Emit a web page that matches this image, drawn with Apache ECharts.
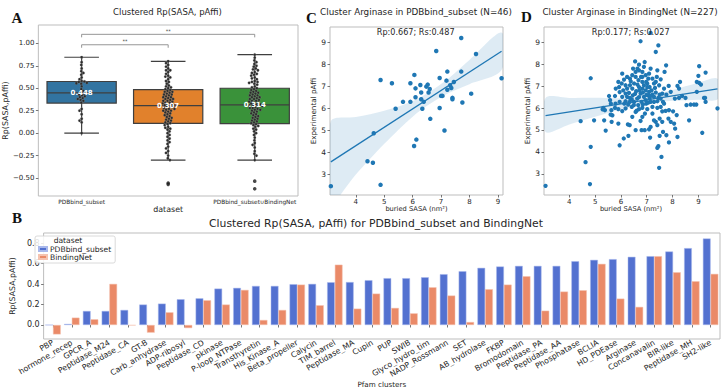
<!DOCTYPE html>
<html><head><meta charset="utf-8">
<script src="https://cdn.jsdelivr.net/npm/echarts@6/dist/echarts.min.js"></script>
<style>html,body{margin:0;padding:0;background:#fff}#c{width:722px;height:392px}</style>
</head><body><div id="c"></div>
<script>
// ---------- Panel A data ----------
var datasetNames = ['PDBbind_subset', 'BindingNet', 'PDBbind_subset\u222aBindingNet'];
// [min whisker, Q1, median, Q3, max whisker]
var boxPDBbind = [0.0, 0.335, 0.448, 0.575, 0.845];
var boxBindingNet = [-0.30, 0.108, 0.307, 0.485, 0.80];
var boxUnion = [-0.30, 0.105, 0.314, 0.50, 0.875];
var medianLabels = ['0.448', '0.307', '0.314'];
var outliersBindingNet = [-0.555, -0.57];
var outliersUnion = [-0.535, -0.62];
var swarmPDBbind = [0.845, 0.79, 0.76, 0.72, 0.69, 0.67, 0.65, 0.62, 0.60, 0.58, 0.575, 0.57, 0.56, 0.555, 0.55, 0.52, 0.49, 0.47, 0.45, 0.44, 0.43, 0.42, 0.41, 0.40, 0.39, 0.38, 0.37, 0.36, 0.34, 0.27, 0.25, 0.21, 0.16, 0.14, 0.12, 0.0];
var swarmBindingNet = [0.80, 0.78, 0.76, 0.74, 0.72, 0.70, 0.70, 0.68, 0.66, 0.64, 0.63, 0.62, 0.60, 0.58, 0.57, 0.55, 0.53, 0.52, 0.51, 0.50, 0.49, 0.48, 0.47, 0.46, 0.46, 0.45, 0.44, 0.43, 0.43, 0.42, 0.41, 0.40, 0.40, 0.39, 0.38, 0.38, 0.37, 0.36, 0.36, 0.35, 0.34, 0.34, 0.33, 0.32, 0.32, 0.31, 0.31, 0.30, 0.29, 0.29, 0.28, 0.27, 0.27, 0.26, 0.25, 0.25, 0.24, 0.23, 0.22, 0.21, 0.20, 0.19, 0.18, 0.17, 0.16, 0.15, 0.14, 0.13, 0.12, 0.11, 0.10, 0.09, 0.07, 0.06, 0.05, 0.04, 0.02, 0.00, -0.02, -0.04, -0.06, -0.08, -0.10, -0.12, -0.15, -0.17, -0.20, -0.22, -0.25, -0.28, -0.30];
var swarmUnion = [0.875, 0.84, 0.81, 0.79, 0.77, 0.75, 0.74, 0.72, 0.71, 0.70, 0.68, 0.67, 0.66, 0.65, 0.64, 0.62, 0.61, 0.60, 0.58, 0.57, 0.57, 0.56, 0.55, 0.54, 0.52, 0.51, 0.50, 0.49, 0.48, 0.47, 0.46, 0.45, 0.45, 0.44, 0.43, 0.42, 0.42, 0.41, 0.40, 0.40, 0.39, 0.38, 0.38, 0.37, 0.36, 0.36, 0.35, 0.34, 0.34, 0.33, 0.32, 0.32, 0.31, 0.31, 0.30, 0.30, 0.29, 0.28, 0.28, 0.27, 0.26, 0.26, 0.25, 0.24, 0.23, 0.22, 0.21, 0.20, 0.19, 0.18, 0.17, 0.16, 0.15, 0.14, 0.13, 0.12, 0.11, 0.10, 0.09, 0.08, 0.07, 0.05, 0.04, 0.02, 0.0, -0.02, -0.05, -0.08, -0.11, -0.13, -0.16, -0.20, -0.23, -0.25, -0.30];
// significance brackets: [from category, to category, height]
var brackets = [[0, 1, 0.984, '**'], [0, 2, 1.10, '**']];
var aTicks = [-0.5, -0.25, 0, 0.25, 0.5, 0.75, 1.0];

// ---------- Panel C data ----------
var scatterC = [[7.71,9.18],[8.23,8.46],[6.83,8.59],[4.87,7.28],[5.27,7.13],[6.06,7.51],[5.92,7.13],[7.22,7.66],[7.71,7.66],[6.95,7.37],[7.19,7.25],[6.27,7.05],[6.48,6.98],[6.53,7.07],[6.10,6.90],[6.60,6.87],[6.30,6.71],[6.56,6.71],[7.32,7.04],[7.45,7.19],[7.36,6.92],[7.22,6.84],[7.00,6.56],[7.05,6.56],[6.10,6.50],[6.30,6.41],[6.39,6.29],[5.92,6.29],[5.66,6.29],[5.40,5.98],[6.34,5.98],[6.95,6.01],[7.40,6.47],[7.40,6.41],[7.75,6.26],[8.06,6.66],[9.13,7.36],[6.62,5.52],[7.12,4.99],[6.13,4.58],[6.05,4.29],[4.63,4.87],[4.41,3.60],[4.60,3.53],[4.87,2.53],[3.12,2.47]];
var regLineC = [[3.12, 3.57], [9.13, 8.58]];
var ciXC = [3.12, 4.0, 5.0, 6.0, 6.6, 7.2, 8.0, 9.13];
var ciLoC = [1.73, 3.0, 4.39, 5.62, 6.19, 6.65, 7.09, 7.73];
var ciHiC = [5.41, 5.6, 5.89, 6.32, 6.75, 7.29, 8.19, 9.43];
var cdXTicks = [4, 5, 6, 7, 8, 9];
var cdYTicks = [3, 4, 5, 6, 7, 8, 9];

// ---------- Panel D data ----------
var scatterD = [[7.15,9.43],[6.76,9.05],[7.45,8.86],[7.35,8.56],[4.83,7.36],[3.08,2.45],[4.80,2.53],[4.63,3.53],[4.83,4.23],[7.48,3.27],[7.57,3.77],[7.41,4.18],[7.45,4.26],[7.86,4.43],[5.95,4.30],[6.11,4.61],[6.29,4.73],[4.44,5.40],[5.41,4.97],[7.50,4.73],[8.19,4.68],[8.10,5.06],[9.15,4.87],[9.74,5.98],[9.26,6.46],[9.28,7.62],[9.03,7.91],[9.00,7.47],[8.94,7.19],[9.03,7.15],[9.10,7.07],[8.94,6.74],[8.83,6.16],[8.64,5.44],[8.54,6.13],[8.25,6.46],[8.25,6.89],[8.29,7.19],[8.19,7.01],[8.16,5.68],[7.93,5.37],[7.75,7.95],[7.69,7.65],[7.85,7.01],[7.93,6.74],[7.76,6.61],[7.67,6.20],[7.86,5.90],[7.73,5.87],[7.60,5.85],[7.35,5.37],[7.28,5.44],[7.15,5.14],[7.09,5.03],[6.92,4.99],[6.80,4.99],[6.57,4.99],[6.76,5.41],[6.83,5.60],[6.93,5.75],[7.02,5.95],[7.22,6.05],[7.15,6.28],[7.41,6.31],[7.50,6.61],[7.48,7.04],[7.39,7.42],[7.41,7.72],[7.15,7.80],[6.92,8.10],[6.55,8.13],[6.05,7.57],[5.90,7.19],[5.93,6.96],[5.77,6.55],[5.58,6.36],[5.32,6.01],[5.38,5.90],[5.63,5.90],[5.67,5.67],[5.77,6.01],[5.35,5.44],[5.60,5.70],[5.90,5.95],[6.18,5.98],[6.27,5.25],[6.34,5.22],[6.44,5.60],[6.61,5.88],[6.42,6.05],[6.34,6.28],[6.13,6.20],[6.05,6.51],[6.18,6.66],[6.09,6.81],[6.24,6.89],[6.35,7.04],[6.51,7.12],[6.35,7.34],[6.44,7.50],[6.57,7.65],[6.70,7.72],[6.83,7.65],[6.96,7.50],[7.06,7.34],[7.22,7.34],[6.98,7.19],[6.83,7.19],[6.68,7.27],[6.70,6.96],[6.83,6.89],[6.96,6.81],[7.09,6.74],[7.22,6.61],[7.35,6.71],[7.06,6.58],[6.89,6.51],[6.76,6.66],[6.59,6.77],[6.46,6.58],[6.63,6.43],[6.80,6.28],[6.96,6.36],[6.42,6.40],[6.24,6.51],[6.31,6.69],[5.95,6.73],[6.51,6.28],[6.67,6.13],[6.83,6.01],[6.98,6.20],[7.11,6.43],[7.28,6.51],[7.45,6.46],[7.60,6.66],[7.67,6.89],[7.11,6.96],[7.28,7.12],[7.02,7.12],[6.89,7.04],[6.78,7.42],[6.57,7.42],[7.09,7.57],[6.44,6.89],[6.18,7.04],[6.03,7.12],[5.80,6.89],[6.12,7.30],[5.54,6.55],[5.64,5.37],[5.90,5.29],[6.05,5.86],[6.57,5.82],[6.70,5.95],[7.22,5.75],[7.41,6.01],[7.54,6.05],[7.50,5.52],[7.60,5.37],[7.41,5.22],[8.09,6.43],[8.37,6.55],[8.50,6.46],[8.70,6.16],[8.92,6.16],[9.22,6.46],[9.28,6.28],[8.02,5.85],[7.84,5.52],[8.06,5.29],[7.63,4.91],[7.76,4.76],[7.13,4.65],[4.96,5.44],[5.29,5.94],[5.61,6.20],[6.38,7.22],[6.64,7.07],[6.72,6.81],[6.85,6.71],[7.02,6.96],[7.19,6.81],[7.32,6.92],[7.15,6.55],[6.99,6.60],[6.70,6.50],[6.55,6.65],[6.34,6.46],[6.18,6.31],[6.28,6.16],[6.50,6.13],[6.85,6.16],[7.06,6.25],[7.28,6.28],[7.54,6.43],[7.63,6.28],[7.35,7.19],[7.54,7.31],[6.47,7.80],[6.70,7.98],[6.89,7.88],[6.24,7.42],[5.95,6.28],[5.79,6.20],[6.83,7.42],[6.64,7.80]];
var regLineD = [[3.08, 5.65], [9.74, 6.88]];
var ciXD = [3.08, 4.0, 5.0, 6.0, 7.0, 8.0, 9.0, 9.74];
var ciLoD = [4.91, 5.25, 5.60, 5.95, 6.20, 6.33, 6.38, 6.40];
var ciHiD = [6.46, 6.46, 6.47, 6.45, 6.55, 6.82, 7.15, 7.34];

// ---------- Panel B data ----------
var pfamClusters = ['PBP','hormone_recep','GPCR_A','Peptidase_M24','Peptidase_CA','GT-B','Carb_anhydrase','ADP-ribosyl','Peptidase_CD','pkinase','P-loop_NTPase','Transthyretin','His_Kinase_A','Beta_propeller','Calycin','TIM_barrel','Peptidase_MA','Cupin','PUP','SWIB','Glyco_hydro_tim','NADP_Rossmann','SET','AB_hydrolase','FKBP','Bromodomain','Peptidase_PA','Peptidase_AA','Phosphatase','BCLIA','HD_PDEase','Arginase','Concanavalin','BIR-like','Peptidase_MH','SH2-like'];
var rpPDBbind = [0.0, 0.01, 0.137, 0.137, 0.147, 0.20, 0.209, 0.252, 0.261, 0.356, 0.363, 0.382, 0.382, 0.399, 0.402, 0.418, 0.42, 0.438, 0.458, 0.458, 0.467, 0.497, 0.526, 0.559, 0.572, 0.578, 0.578, 0.578, 0.624, 0.637, 0.644, 0.667, 0.673, 0.719, 0.752, 0.846];
var rpBindingNet = [-0.092, 0.072, 0.056, 0.402, -0.005, -0.075, 0.124, -0.03, 0.242, 0.20, 0.343, 0.049, 0.147, 0.395, 0.193, 0.59, 0.16, 0.307, 0.167, 0.114, 0.369, 0.288, 0.029, 0.35, 0.395, 0.477, 0.14, 0.327, 0.34, 0.598, 0.258, 0.177, 0.673, 0.516, 0.428, 0.50];
var bTicks = [0, 0.2, 0.4, 0.6, 0.8];

// ---------- styling ----------
var FONT = '"DejaVu Sans", sans-serif';
var TXT = '#262626';
var boxColors = ['#3274a1', '#e1812c', '#3a923a'];
var scatColor = '#1f77b4';
var barBlue = '#5371d0', barOrange = '#ea8a68';

function minusFmt(d) { return function (v) { return v.toFixed(d).replace('-', '\u2212'); }; }

var boxData = [boxPDBbind, boxBindingNet, boxUnion].map(function (s, i) { return [i].concat(s); });
var swarmData = [];
[swarmPDBbind, swarmBindingNet, swarmUnion].forEach(function (arr, g) { arr.forEach(function (v) { swarmData.push([g, v]); }); });
var outlierData = outliersBindingNet.map(function (v) { return [1, v]; }).concat(outliersUnion.map(function (v) { return [2, v]; }));

var swarmPos = null;
function computeSwarm(api) {
  swarmPos = [];
  var d = 2.7;
  var groups = {};
  swarmData.forEach(function (it, idx) { (groups[it[0]] = groups[it[0]] || []).push(idx); });
  Object.keys(groups).forEach(function (g) {
    var pts = groups[g].map(function (idx) { var p = api.coord([+g, swarmData[idx][1]]); return { idx: idx, x: p[0], y: p[1] }; });
    pts.sort(function (a, b) { return a.y - b.y; });
    var placed = [];
    pts.forEach(function (p) {
      var best = 0;
      for (var k = 0; k < 400; k++) {
        var off = (k % 2 === 1 ? -1 : 1) * Math.ceil(k / 2) * 0.35;
        var ok = true;
        for (var j = placed.length - 1; j >= 0; j--) {
          var q = placed[j];
          if (p.y - q.y > d) break;
          var dx = p.x + off - q.x, dy = p.y - q.y;
          if (dx * dx + dy * dy < d * d) { ok = false; break; }
        }
        if (ok) { best = off; break; }
      }
      placed.push({ x: p.x + best, y: p.y });
      swarmPos[p.idx] = [p.x + best, p.y];
    });
  });
}

function bandRender(xs, lo, hi) {
  return function (params, api) {
    var pts = [];
    for (var i = 0; i < xs.length; i++) pts.push(api.coord([xs[i], hi[i]]));
    for (var j = xs.length - 1; j >= 0; j--) pts.push(api.coord([xs[j], lo[j]]));
    return { type: 'polygon', shape: { points: pts, smooth: 0.3 }, style: { fill: 'rgba(31,119,180,0.15)' } };
  };
}

function txt(x, y, text, font, fill, align, valign) {
  return { type: 'text', x: x, y: y, z: 100, silent: true,
    style: { text: text, font: font, fill: fill || TXT, textAlign: align || 'center', textVerticalAlign: valign || 'middle', align: align || 'center', verticalAlign: valign || 'middle' } };
}

var gridBase = { show: true, borderColor: '#bdbdbd', borderWidth: 1, backgroundColor: '#fff' };
function G(o) { return Object.assign({}, gridBase, o); }

var tickStyle = { show: true, length: 2.5, lineStyle: { color: '#555', width: 0.8 } };

var chart = echarts.init(document.getElementById('c'), null, { renderer: 'svg' });
chart.setOption({
  animation: false,
  backgroundColor: '#fff',
  grid: [
    G({ left: 37, top: 25, width: 261, height: 171 }),
    G({ left: 330, top: 27, width: 173, height: 168 }),
    G({ left: 544, top: 27, width: 174, height: 168 }),
    G({ left: 32, top: 233, width: 688, height: 106 })
  ],
  xAxis: [
    { gridIndex: 0, type: 'category', data: datasetNames, axisLine: { show: false }, axisTick: Object.assign({ alignWithLabel: true }, tickStyle),
      axisLabel: { fontSize: 5.8, color: TXT, margin: 3, fontFamily: FONT },
      name: 'dataset', nameLocation: 'middle', nameGap: 8.5, nameTextStyle: { fontSize: 7.9, color: TXT, fontFamily: FONT } },
    { gridIndex: 1, type: 'value', min: 3.09, max: 9.18, axisLine: { show: false }, splitLine: { show: false },
      axisTick: Object.assign({ customValues: cdXTicks }, tickStyle),
      axisLabel: { customValues: cdXTicks, fontSize: 7, color: TXT, margin: 3, fontFamily: FONT },
      name: 'buried SASA (nm\u00b2)', nameLocation: 'middle', nameGap: 10, nameTextStyle: { fontSize: 6.7, color: TXT, fontFamily: FONT } },
    { gridIndex: 2, type: 'value', min: 3.02, max: 9.76, axisLine: { show: false }, splitLine: { show: false },
      axisTick: Object.assign({ customValues: cdXTicks }, tickStyle),
      axisLabel: { customValues: cdXTicks, fontSize: 7, color: TXT, margin: 3, fontFamily: FONT },
      name: 'buried SASA (nm\u00b2)', nameLocation: 'middle', nameGap: 10, nameTextStyle: { fontSize: 6.7, color: TXT, fontFamily: FONT } },
    { gridIndex: 3, type: 'category', data: pfamClusters, axisLine: { show: false }, axisTick: Object.assign({ alignWithLabel: true }, tickStyle),
      axisLabel: { interval: 0, rotate: 30, fontSize: 7.8, color: TXT, margin: 3, fontFamily: FONT },
      name: 'Pfam clusters', nameLocation: 'middle', nameGap: 42, nameTextStyle: { fontSize: 7.2, color: TXT, fontFamily: FONT } }
  ],
  yAxis: [
    { gridIndex: 0, type: 'value', min: -0.70, max: 1.204, axisLine: { show: false }, splitLine: { show: false },
      axisTick: Object.assign({ customValues: aTicks }, tickStyle),
      axisLabel: { customValues: aTicks, formatter: minusFmt(2), fontSize: 7, color: TXT, margin: 4, fontFamily: FONT },
      name: 'Rp(SASA,pAffi)', nameLocation: 'middle', nameGap: 21, nameTextStyle: { fontSize: 7.9, color: TXT, fontFamily: FONT } },
    { gridIndex: 1, type: 'value', min: 2.07, max: 9.68, axisLine: { show: false }, splitLine: { show: false },
      axisTick: Object.assign({ customValues: cdYTicks }, tickStyle),
      axisLabel: { customValues: cdYTicks, fontSize: 7.5, color: TXT, margin: 4, fontFamily: FONT },
      name: 'Experimental pAffi', nameLocation: 'middle', nameGap: 8.5, nameTextStyle: { fontSize: 7.2, color: TXT, fontFamily: FONT } },
    { gridIndex: 2, type: 'value', min: 2.03, max: 9.70, axisLine: { show: false }, splitLine: { show: false },
      axisTick: Object.assign({ customValues: cdYTicks }, tickStyle),
      axisLabel: { customValues: cdYTicks, fontSize: 7.5, color: TXT, margin: 4, fontFamily: FONT },
      name: 'Experimental pAffi', nameLocation: 'middle', nameGap: 9, nameTextStyle: { fontSize: 7.2, color: TXT, fontFamily: FONT } },
    { gridIndex: 3, type: 'value', min: -0.137, max: 0.90, axisLine: { show: false }, splitLine: { show: false },
      axisTick: Object.assign({ customValues: bTicks }, tickStyle),
      axisLabel: { customValues: bTicks, formatter: minusFmt(1), fontSize: 8, color: TXT, margin: 4, fontFamily: FONT },
      name: 'Rp(SASA,pAffi)', nameLocation: 'middle', nameGap: 15.5, nameTextStyle: { fontSize: 7.8, color: TXT, fontFamily: FONT } }
  ],
  legend: {
    show: true, orient: 'vertical', left: 35, top: 236, z: 10, data: ['PDBbind_subset', 'BindingNet'],
    padding: [9, 4, 2, 3], itemGap: 0, itemWidth: 8, itemHeight: 4, icon: 'rect',
    borderColor: '#d0d0d0', borderWidth: 0.8, borderRadius: 2, backgroundColor: 'rgba(255,255,255,0.85)',
    textStyle: { fontSize: 7.6, color: TXT, fontFamily: FONT, padding: [0, 0, 0, -2] }
  },
  graphic: { elements: [
    txt(167.5, 12, 'Clustered Rp(SASA, pAffi)', '8.5px ' + FONT),
    txt(416, 12, 'Cluster Arginase in PDBbind_subset (N=46)', '8.8px ' + FONT),
    txt(630, 12, 'Cluster Arginase in BindingNet (N=227)', '8.8px ' + FONT),
    txt(376, 223, 'Clustered Rp(SASA, pAffi) for PDBbind_subset and BindingNet', '10.8px ' + FONT),
    txt(415.7, 31.5, 'Rp:0.667; Rs:0.487', '8.1px ' + FONT),
    txt(630.7, 31.5, 'Rp:0.177; Rs:0.027', '8.1px ' + FONT),
    txt(68, 240.5, 'dataset', '7.6px ' + FONT),
    txt(17, 17.5, 'A', 'bold 15px "Liberation Serif", serif', '#111'),
    txt(17, 218, 'B', 'bold 15px "Liberation Serif", serif', '#111'),
    txt(311.5, 17.5, 'C', 'bold 15px "Liberation Serif", serif', '#111'),
    txt(526.5, 16.5, 'D', 'bold 15px "Liberation Serif", serif', '#111')
  ] },
  series: [
    // A: boxes
    { type: 'custom', xAxisIndex: 0, yAxisIndex: 0, z: 2, data: boxData,
      renderItem: function (params, api) {
        var g = api.value(0);
        var bw = api.size([1, 0])[0] * 0.8;
        var x = api.coord([g, api.value(3)])[0];
        var yMin = api.coord([g, api.value(1)])[1], yQ1 = api.coord([g, api.value(2)])[1], yMed = api.coord([g, api.value(3)])[1],
            yQ3 = api.coord([g, api.value(4)])[1], yMax = api.coord([g, api.value(5)])[1];
        var st = { stroke: '#3f3f3f', lineWidth: 1.2, fill: null };
        return { type: 'group', children: [
          { type: 'line', shape: { x1: x, y1: yQ1, x2: x, y2: yMin }, style: st },
          { type: 'line', shape: { x1: x, y1: yQ3, x2: x, y2: yMax }, style: st },
          { type: 'line', shape: { x1: x - bw / 4, y1: yMin, x2: x + bw / 4, y2: yMin }, style: st },
          { type: 'line', shape: { x1: x - bw / 4, y1: yMax, x2: x + bw / 4, y2: yMax }, style: st },
          { type: 'rect', shape: { x: x - bw / 2, y: yQ3, width: bw, height: yQ1 - yQ3 }, style: { fill: boxColors[g], stroke: '#3f3f3f', lineWidth: 1.2 } },
          { type: 'line', shape: { x1: x - bw / 2, y1: yMed, x2: x + bw / 2, y2: yMed }, style: st }
        ] };
      } },
    // A: swarm points
    { type: 'custom', xAxisIndex: 0, yAxisIndex: 0, z: 3, data: swarmData,
      renderItem: function (params, api) {
        if (!swarmPos) computeSwarm(api);
        var p = swarmPos[params.dataIndex];
        return { type: 'circle', shape: { cx: p[0], cy: p[1], r: 1.35 }, style: { fill: '#2b2b2b', stroke: '#9a9a9a', lineWidth: 0.3 } };
      } },
    // A: outliers
    { type: 'scatter', xAxisIndex: 0, yAxisIndex: 0, z: 3, data: outlierData, symbolSize: 3.6, itemStyle: { color: '#1a1a1a' } },
    // A: median labels
    { type: 'custom', xAxisIndex: 0, yAxisIndex: 0, z: 6, data: boxData,
      renderItem: function (params, api) {
        var p = api.coord([api.value(0), api.value(3)]);
        return { type: 'text', x: p[0], y: p[1], style: { text: medianLabels[params.dataIndex], font: 'bold 7px ' + FONT, fill: '#fff', align: 'center', verticalAlign: 'middle', textAlign: 'center', textVerticalAlign: 'middle' } };
      } },
    // A: significance brackets
    { type: 'custom', xAxisIndex: 0, yAxisIndex: 0, z: 4, data: brackets.map(function (b) { return [b[0], b[1], b[2]]; }),
      renderItem: function (params, api) {
        var a = api.value(0), b = api.value(1), h = api.value(2);
        var p1 = api.coord([a, h]), p2 = api.coord([b, h]);
        var t = 3;
        return { type: 'group', children: [
          { type: 'polyline', shape: { points: [[p1[0], p1[1] + t], [p1[0], p1[1]], [p2[0], p2[1]], [p2[0], p2[1] + t]] }, style: { stroke: '#8a8a8a', lineWidth: 0.9, fill: null } },
          { type: 'text', x: (p1[0] + p2[0]) / 2, y: p1[1] - 1, style: { text: brackets[params.dataIndex][3], font: '5px ' + FONT, fill: '#444', align: 'center', verticalAlign: 'bottom', textAlign: 'center', textVerticalAlign: 'bottom' } }
        ] };
      } },
    // C
    { type: 'custom', xAxisIndex: 1, yAxisIndex: 1, z: 1, clip: true, data: [[ciXC[0], ciHiC[0]]], renderItem: bandRender(ciXC, ciLoC, ciHiC) },
    { type: 'scatter', xAxisIndex: 1, yAxisIndex: 1, z: 3, data: scatterC, symbolSize: 4.5, itemStyle: { color: scatColor, opacity: 1 } },
    { type: 'line', xAxisIndex: 1, yAxisIndex: 1, z: 4, data: regLineC, showSymbol: false, symbol: 'none', lineStyle: { color: scatColor, width: 1.3 } },
    // D
    { type: 'custom', xAxisIndex: 2, yAxisIndex: 2, z: 1, clip: true, data: [[ciXD[0], ciHiD[0]]], renderItem: bandRender(ciXD, ciLoD, ciHiD) },
    { type: 'scatter', xAxisIndex: 2, yAxisIndex: 2, z: 3, data: scatterD, symbolSize: 4.3, itemStyle: { color: scatColor, opacity: 1 } },
    { type: 'line', xAxisIndex: 2, yAxisIndex: 2, z: 4, data: regLineD, showSymbol: false, symbol: 'none', lineStyle: { color: scatColor, width: 1.3 } },
    // B
    { name: 'PDBbind_subset', type: 'bar', xAxisIndex: 3, yAxisIndex: 3, data: rpPDBbind, barGap: '0%', barCategoryGap: '18%',
      itemStyle: { color: barBlue, borderColor: '#a9b8ec', borderWidth: 0.5 } },
    { name: 'BindingNet', type: 'bar', xAxisIndex: 3, yAxisIndex: 3, data: rpBindingNet, barGap: '0%', barCategoryGap: '18%',
      itemStyle: { color: barOrange, borderColor: '#f5c3b0', borderWidth: 0.5 } }
  ]
});
</script>
</body></html>
